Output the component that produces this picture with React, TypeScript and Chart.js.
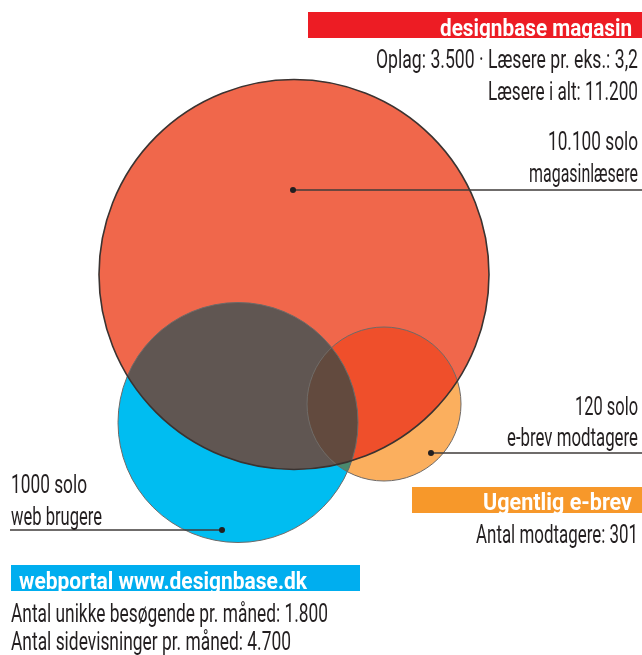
import React, { useEffect, useRef } from "react";
import { Chart, registerables } from "chart.js";

Chart.register(...registerables);

// ---- Data ----
const setNames = ["designbase magasin", "webportal www.designbase.dk", "Ugentlig e-brev"];
const circleX = [294, 238, 384];
const circleY = [274.5, 422.5, 404];
const circleR = [195, 120, 77];
const soloCounts = ["10.100 solo", "1000 solo", "120 solo"];
const soloLabels = ["magasinlæsere", "web brugere", "e-brev modtagere"];
const anchorX = [293, 222, 431];
const anchorY = [190, 530, 453];
const magazineStats = ["Oplag: 3.500 · Læsere pr. eks.: 3,2", "Læsere i alt: 11.200"];
const webStats = ["Antal unikke besøgende pr. måned: 1.800", "Antal sidevisninger pr. måned: 4.700"];
const mailStats = ["Antal modtagere: 301"];

// ---- Styles ----
const fillColors = ["#F0674B", "#00BDF1", "#FBAF5E"];
const overlapRB = "#605652";
const overlapRO = "#EF4F2B";
const overlapBO = "#4A8A6E";
const overlapAll = "#624A3E";
const barColors = ["#ED1C24", "#00AEEF", "#F7982A"];
const textColor = "#231F20";
const REG = "26px Roboto, 'Liberation Sans', sans-serif";
const BOLD = "bold 24px Roboto, 'Liberation Sans', sans-serif";

function fitText(ctx: CanvasRenderingContext2D, text: string, x: number, y: number, width: number, align: "left" | "right") {
  const w = ctx.measureText(text).width;
  const sx = width / w;
  ctx.save();
  const left = align === "right" ? x - width : x;
  ctx.translate(left, y);
  ctx.scale(sx, 1);
  ctx.textAlign = "left";
  ctx.textBaseline = "alphabetic";
  ctx.fillText(text, 0, 0);
  ctx.restore();
}

type Circ = { x: number; y: number; r: number };

const vennPlugin = {
  id: "venn",
  afterDatasetsDraw(chart: any) {
    const ctx: CanvasRenderingContext2D = chart.ctx;
    const circles: Circ[] = chart.data.datasets.map((_: any, i: number) => {
      const el = chart.getDatasetMeta(i).data[0];
      return { x: el.x, y: el.y, r: el.options.radius };
    });
    const clipTo = (c: Circ) => {
      ctx.beginPath();
      ctx.arc(c.x, c.y, c.r, 0, Math.PI * 2);
      ctx.clip();
    };
    const fillCirc = (c: Circ, color: string) => {
      ctx.beginPath();
      ctx.arc(c.x, c.y, c.r, 0, Math.PI * 2);
      ctx.fillStyle = color;
      ctx.fill();
    };
    const [R, B, O] = circles;
    ctx.save(); clipTo(R); fillCirc(B, overlapRB); ctx.restore();
    ctx.save(); clipTo(R); fillCirc(O, overlapRO); ctx.restore();
    ctx.save(); clipTo(B); fillCirc(O, overlapBO); ctx.restore();
    ctx.save(); clipTo(R); clipTo(B); fillCirc(O, overlapAll); ctx.restore();
    ctx.save();
    ctx.strokeStyle = "#6E6A68";
    ctx.lineWidth = 1;
    [O, B].forEach((c) => {
      ctx.beginPath();
      ctx.arc(c.x, c.y, c.r, 0, Math.PI * 2);
      ctx.stroke();
    });
    ctx.strokeStyle = "#3A3331";
    ctx.lineWidth = 1.6;
    ctx.beginPath();
    ctx.arc(R.x, R.y, R.r, 0, Math.PI * 2);
    ctx.stroke();
    ctx.restore();
  },
  afterDraw(chart: any) {
    const ctx: CanvasRenderingContext2D = chart.ctx;
    const xs = chart.scales.x;
    const ys = chart.scales.y;
    const px = (v: number) => xs.getPixelForValue(v);
    const py = (v: number) => ys.getPixelForValue(v);
    const W = chart.width;

    ctx.save();
    ctx.strokeStyle = "#3F3B3A";
    ctx.lineWidth = 1.6;
    const ends = [W, 10, W];
    anchorX.forEach((ax, i) => {
      const x = px(ax), y = py(anchorY[i]);
      ctx.beginPath();
      ctx.moveTo(x, y);
      ctx.lineTo(ends[i], y);
      ctx.stroke();
      ctx.beginPath();
      ctx.arc(x, y, 3, 0, Math.PI * 2);
      ctx.fillStyle = textColor;
      ctx.fill();
    });

    const bars = [
      { x0: 308, x1: W, y0: 12, y1: 38, text: setNames[0], tx: 632, tw: 192, by: 35.5, align: "right" as const },
      { x0: 11, x1: 360, y0: 565, y1: 591, text: setNames[1], tx: 19, tw: 288, by: 589, align: "left" as const },
      { x0: 412, x1: W, y0: 487, y1: 513, text: setNames[2], tx: 632, tw: 149, by: 510, align: "right" as const },
    ];
    bars.forEach((b, i) => {
      ctx.fillStyle = barColors[i];
      ctx.fillRect(b.x0, b.y0, b.x1 - b.x0, b.y1 - b.y0);
      ctx.save();
      ctx.beginPath();
      ctx.rect(b.x0, b.y0, b.x1 - b.x0, b.y1 - b.y0);
      ctx.clip();
      ctx.font = BOLD;
      ctx.fillStyle = "#FFFFFF";
      fitText(ctx, b.text, b.tx, b.by, b.tw, b.align);
      ctx.restore();
    });

    ctx.font = REG;
    ctx.fillStyle = textColor;
    const R = 638, L = 11;
    fitText(ctx, magazineStats[0], R, 68, 262, "right");
    fitText(ctx, magazineStats[1], R, 100, 150, "right");
    fitText(ctx, soloCounts[0], R, 150, 90, "right");
    fitText(ctx, soloLabels[0], R, 182, 109, "right");

    fitText(ctx, soloCounts[2], R, 415, 63, "right");
    fitText(ctx, soloLabels[2], R, 446, 131, "right");
    fitText(ctx, mailStats[0], R, 543, 162, "right");

    fitText(ctx, soloCounts[1], L, 493, 76, "left");
    fitText(ctx, soloLabels[1], L, 525, 91, "left");
    fitText(ctx, webStats[0], L, 622, 317, "left");
    fitText(ctx, webStats[1], L, 650, 280, "left");
    ctx.restore();
  },
};

export default function App() {
  const ref = useRef<HTMLCanvasElement | null>(null);
  useEffect(() => {
    if (!ref.current) return;
    const chart = new Chart(ref.current, {
      type: "scatter",
      data: {
        datasets: setNames.map((name, i) => ({
          label: name,
          data: [{ x: circleX[i], y: circleY[i] }],
          backgroundColor: fillColors[i],
          borderWidth: 0,
          pointRadius: (c: any) => {
            const s = c.chart.scales.x;
            return Math.abs(s.getPixelForValue(circleR[i]) - s.getPixelForValue(0));
          },
          pointHoverRadius: (c: any) => {
            const s = c.chart.scales.x;
            return Math.abs(s.getPixelForValue(circleR[i]) - s.getPixelForValue(0));
          },
          order: i,
        })),
      },
      options: {
        animation: false,
        responsive: false,
        events: [],
        layout: { padding: 0 },
        plugins: { legend: { display: false }, tooltip: { enabled: false } },
        scales: {
          x: { type: "linear", min: 0, max: 642, display: false },
          y: { type: "linear", min: 0, max: 655, reverse: true, display: false },
        },
      },
      plugins: [vennPlugin],
    } as any);
    return () => chart.destroy();
  }, []);
  return (
    <div style={{ position: "fixed", left: 0, top: 0, width: 642, height: 655, background: "#fff" }}>
      <canvas ref={ref} width={642} height={655} style={{ display: "block" }} />
    </div>
  );
}
